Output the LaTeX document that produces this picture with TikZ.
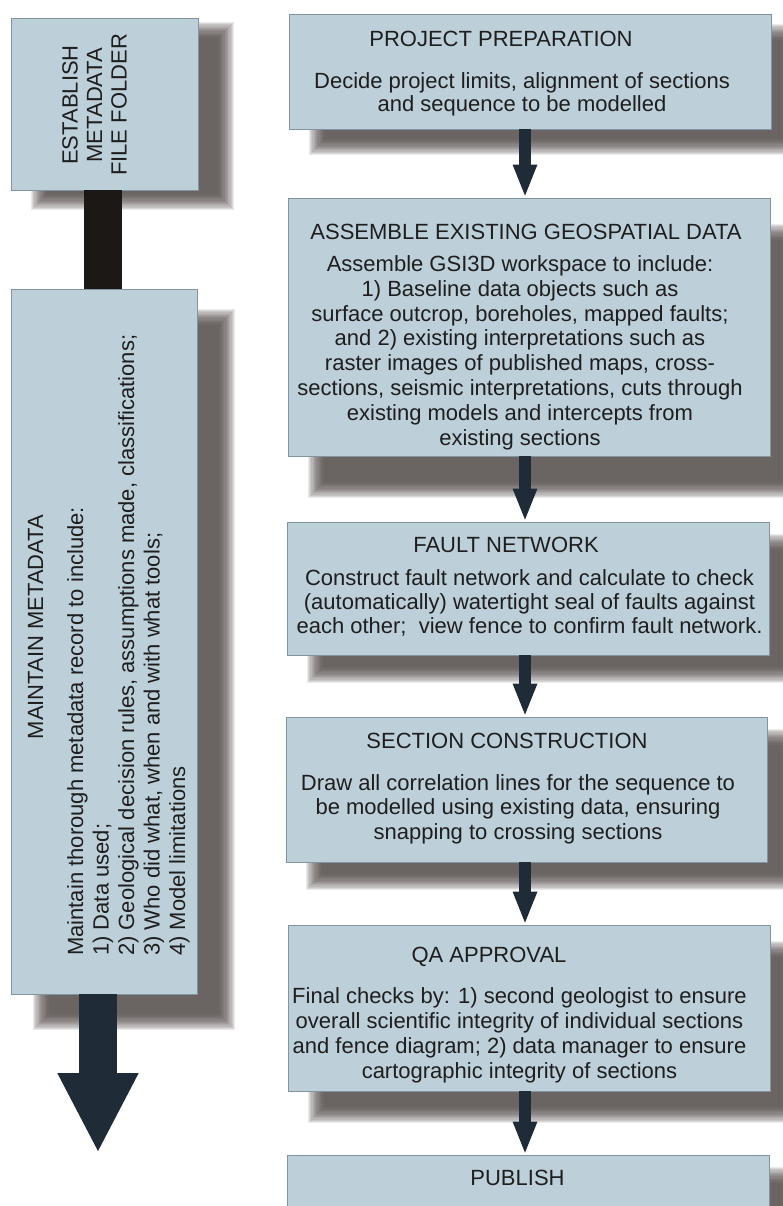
\documentclass[tikz,border=0pt]{standalone}
\usepackage{fontspec}
\setmainfont{Liberation Sans}
\usetikzlibrary{arrows.meta,fit}

\definecolor{boxfill}{HTML}{BDCFD9}
\definecolor{boxline}{HTML}{8294A0}
\definecolor{inkc}{HTML}{1E1E1E}
\definecolor{shadowc}{HTML}{4A4542}
\definecolor{flowc}{HTML}{1F2C37}
\definecolor{barc}{HTML}{1C1816}

\pgfdeclarelayer{paper}
\pgfdeclarelayer{shadowlayer}
\pgfsetlayers{paper,shadowlayer,main}

% multi-line texts are placed by the baseline of their last line
\tikzset{
  stage/.style={draw=boxline, line width=0.8pt, fill=boxfill, inner sep=0pt},
  heading/.style={text=inkc, font=\fontsize{22}{26}\selectfont, anchor=base, inner sep=0pt},
  body/.style={text=inkc, font=\fontsize{22}{24.6}\selectfont, align=center, anchor=base, inner sep=0pt},
  flow/.style={draw=flowc, line width=12pt, -{Triangle[width=22pt,length=33pt]}},
}

% soft drop shadow behind a named box: #1 name, #2/#3 offset right/down
\newcommand\dropshadow[3]{%
  \begin{pgfonlayer}{shadowlayer}
  \foreach \k in {0,...,13}{%
    \pgfmathsetmacro\ee{8-16*\k/13}%
    \pgfmathsetmacro\xa{#2-\ee}\pgfmathsetmacro\ya{#3-\ee}%
    \pgfmathsetmacro\xb{#2+\ee}\pgfmathsetmacro\yb{#3+\ee}%
    \fill[shadowc, fill opacity=0.11]
      ([shift={(\xa,\ya)}]#1.north west) rectangle ([shift={(\xb,\yb)}]#1.south east);
  }%
  \end{pgfonlayer}}

\begin{document}
\begin{tikzpicture}[x=1pt, y=-1pt]
\useasboundingbox (0,0) rectangle (782,1206);
\begin{pgfonlayer}{paper}
\fill[white] (0,0) rectangle (782,1206);
\end{pgfonlayer}

% ---------- metadata column ----------
\node[stage, fit={(11,18) (198,190)}] (est) {};
\node[stage, fit={(11,289) (197,994)}] (mm) {};
\dropshadow{est}{28}{12}
\dropshadow{mm}{30}{28}

\node[text=inkc, font=\fontsize{22}{24.5}\selectfont, align=center, rotate=90, inner sep=0pt]
  (estT) at (94.5,105) {ESTABLISH\\METADATA\\FILE FOLDER};
\node[heading, rotate=90] (mmT) at (43,627) {MAINTAIN METADATA};
\node[text=inkc, font=\fontsize{22}{25.5}\selectfont, align=left, rotate=90, anchor=base west, inner sep=0pt]
  (mmB) at (185,956) {Maintain thorough metadata record to include:\\1) Data used;\\2) Geological decision rules, assumptions made, classifications;\\3) Who did what, when and with what tools;\\4) Model limitations};

\coordinate (barx) at (103,0);
\coordinate (bigx) at (98,0);
\coordinate (bigtip) at (98,1153);
\draw[barc, line width=38pt] (est.south -| barx) -- (mm.north -| barx);
\draw[flowc, line width=38pt, -{Triangle[width=75pt,length=80pt]}] (mm.south -| bigx) -- (bigtip);

% ---------- workflow column ----------
\node[stage, fit={(289,14) (771,129)}] (pp) {};
\node[stage, fit={(288,198) (770,456)}] (ag) {};
\node[stage, fit={(287,522) (769,655)}] (fn) {};
\node[stage, fit={(286,717) (767,862)}] (sc) {};
\node[stage, fit={(288,925) (770,1091)}] (qa) {};
\node[stage, fit={(287,1155) (769,1240)}] (pb) {};
\dropshadow{pp}{28}{18}
\dropshadow{ag}{28}{34}
\dropshadow{fn}{28}{20}
\dropshadow{sc}{28}{20}
\dropshadow{qa}{28}{24}
\dropshadow{pb}{28}{20}

\node[heading] (ppT) at (501,47) {PROJECT PREPARATION};
\node[body, font=\fontsize{22}{23}\selectfont] (ppB) at (522,112)
  {Decide project limits, alignment of sections\\and sequence to be modelled};

\node[heading] (agT) at (526,240) {ASSEMBLE EXISTING GEOSPATIAL DATA};
\node[body, font=\fontsize{22}{24.8}\selectfont] (agB) at (520,445)
  {Assemble GSI3D workspace to include:\\1) Baseline data objects such as\\surface outcrop, boreholes, mapped faults;\\and 2) existing interpretations such as\\raster images of published maps, cross-\\sections, seismic interpretations, cuts through\\existing models and intercepts from\\existing sections};

\node[heading] (fnT) at (506,552) {FAULT NETWORK};
\node[body, font=\fontsize{22}{24}\selectfont] (fnB) at (529.5,633)
  {Construct fault network and calculate to check\\(automatically) watertight seal of faults against\\each other;\ \ view fence to confirm fault network.};

\node[heading] (scT) at (507,748) {SECTION CONSTRUCTION};
\node[body, font=\fontsize{22}{24.5}\selectfont] (scB) at (518,839)
  {Draw all correlation lines for the sequence to\\be modelled using existing data, ensuring\\snapping to crossing sections};

\node[heading] (qaT) at (489,962) {QA APPROVAL};
\node[body, font=\fontsize{22}{24.7}\selectfont] (qaB) at (519.5,1078)
  {Final checks by: 1) second geologist to ensure\\overall scientific integrity of individual sections\\and fence diagram; 2) data manager to ensure\\cartographic integrity of sections};

\node[heading] (pbT) at (517.5,1185) {PUBLISH};

\coordinate (axis) at (525,0);
\draw[flow] (pp.south -| axis) -- (ag.north -| axis);
\draw[flow] (ag.south -| axis) -- (fn.north -| axis);
\draw[flow] (fn.south -| axis) -- (sc.north -| axis);
\draw[flow] (sc.south -| axis) -- (qa.north -| axis);
\draw[flow] (qa.south -| axis) -- (pb.north -| axis);
\end{tikzpicture}
\end{document}
